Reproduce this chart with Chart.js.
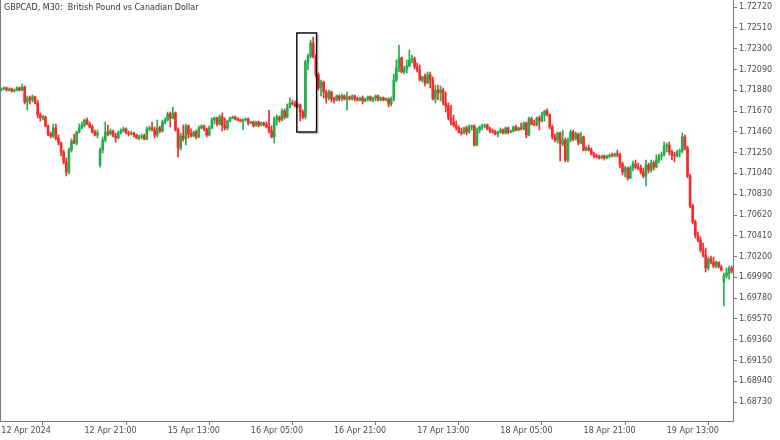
<!DOCTYPE html>
<html>
<head>
<meta charset="utf-8">
<script src="https://cdn.jsdelivr.net/npm/chart.js@4.4.1/dist/chart.umd.min.js"></script>
<style>
html,body{margin:0;padding:0;background:#fff;}
#wrap{width:780px;height:440px;position:relative;}
</style>
</head>
<body>
<div id="wrap"><canvas id="c" width="780" height="440"></canvas></div>
<script>
const chartTitle = "GBPCAD, M30:  British Pound vs Canadian Dollar";

const opens = [
1.71882,1.71893,1.71903,1.71882,1.71893,1.71872,1.71882,1.71903,1.71882,1.71913,
1.71761,1.71802,1.71781,1.71812,1.71751,1.71630,1.71600,1.71610,1.71519,1.71438,
1.71418,1.71499,1.71398,1.71347,1.71256,1.71155,1.71054,1.71276,1.71367,1.71347,
1.71458,1.71499,1.71529,1.71579,1.71539,1.71509,1.71458,1.71428,1.71125,1.71276,
1.71377,1.71458,1.71438,1.71468,1.71418,1.71398,1.71448,1.71468,1.71489,1.71448,
1.71438,1.71448,1.71428,1.71398,1.71408,1.71418,1.71388,1.71489,1.71499,1.71478,
1.71428,1.71499,1.71468,1.71559,1.71579,1.71640,1.71600,1.71650,1.71478,1.71297,
1.71418,1.71388,1.71519,1.71438,1.71418,1.71458,1.71408,1.71499,1.71519,1.71489,
1.71428,1.71499,1.71579,1.71600,1.71539,1.71610,1.71519,1.71499,1.71569,1.71600,
1.71610,1.71590,1.71579,1.71569,1.71579,1.71590,1.71549,1.71559,1.71519,1.71559,
1.71529,1.71549,1.71529,1.71509,1.71468,1.71408,1.71590,1.71610,1.71579,1.71670,
1.71610,1.71711,1.71751,1.71741,1.71721,1.71731,1.71660,1.71610,1.72165,1.72226,
1.72357,1.72216,1.72034,1.71903,1.71963,1.71862,1.71802,1.71862,1.71792,1.71781,
1.71822,1.71792,1.71822,1.71792,1.71812,1.71792,1.71822,1.71792,1.71781,1.71802,
1.71771,1.71792,1.71812,1.71781,1.71802,1.71822,1.71781,1.71802,1.71781,1.71792,
1.71741,1.71792,1.71983,1.72105,1.72206,1.72064,1.72095,1.72125,1.72185,1.72196,
1.72115,1.72084,1.71983,1.72014,1.71953,1.72034,1.71983,1.71792,1.71882,1.71852,
1.71882,1.71751,1.71721,1.71600,1.71559,1.71529,1.71499,1.71458,1.71448,1.71499,
1.71458,1.71509,1.71519,1.71327,1.71478,1.71509,1.71519,1.71529,1.71489,1.71468,
1.71458,1.71438,1.71458,1.71478,1.71448,1.71499,1.71458,1.71468,1.71509,1.71478,
1.71499,1.71489,1.71549,1.71428,1.71590,1.71539,1.71529,1.71600,1.71569,1.71630,
1.71670,1.71630,1.71509,1.71408,1.71377,1.71448,1.71337,1.71377,1.71175,1.71377,
1.71458,1.71388,1.71438,1.71347,1.71408,1.71276,1.71297,1.71276,1.71236,1.71216,
1.71206,1.71196,1.71216,1.71196,1.71216,1.71226,1.71216,1.71236,1.71226,1.71135,
1.71054,1.71095,1.70994,1.71095,1.71135,1.71105,1.71095,1.71054,1.71014,1.71125,
1.71074,1.71145,1.71105,1.71175,1.71216,1.71226,1.71317,1.71327,1.71256,1.71226,
1.71216,1.71256,1.71266,1.71408,1.71297,1.71014,1.70711,1.70549,1.70418,1.70367,
1.70266,1.70216,1.70085,1.70176,1.70145,1.70105,1.70145,1.70095,1.69943,1.70004,
1.70034,1.70085
];

const highs = [
1.71903,1.71913,1.71913,1.71903,1.71903,1.71893,1.71913,1.71913,1.71943,1.71923,
1.71822,1.71822,1.71832,1.71822,1.71781,1.71650,1.71630,1.71620,1.71529,1.71458,
1.71539,1.71539,1.71428,1.71357,1.71276,1.71196,1.71297,1.71388,1.71438,1.71468,
1.71539,1.71559,1.71590,1.71600,1.71559,1.71529,1.71478,1.71478,1.71297,1.71408,
1.71559,1.71529,1.71489,1.71478,1.71448,1.71468,1.71489,1.71509,1.71499,1.71468,
1.71468,1.71458,1.71438,1.71428,1.71438,1.71438,1.71509,1.71519,1.71559,1.71509,
1.71579,1.71519,1.71579,1.71600,1.71660,1.71660,1.71711,1.71660,1.71499,1.71448,
1.71529,1.71539,1.71529,1.71489,1.71468,1.71478,1.71519,1.71529,1.71529,1.71499,
1.71519,1.71600,1.71610,1.71610,1.71630,1.71650,1.71600,1.71579,1.71610,1.71620,
1.71620,1.71600,1.71590,1.71590,1.71600,1.71600,1.71569,1.71569,1.71569,1.71569,
1.71559,1.71559,1.71559,1.71680,1.71519,1.71610,1.71630,1.71620,1.71691,1.71691,
1.71741,1.71802,1.71781,1.71771,1.71751,1.71741,1.71680,1.72185,1.72246,1.72387,
1.72418,1.72236,1.72054,1.71983,1.71973,1.71882,1.71882,1.71872,1.71812,1.71832,
1.71832,1.71842,1.71832,1.71862,1.71822,1.71832,1.71832,1.71812,1.71812,1.71822,
1.71802,1.71822,1.71822,1.71812,1.71832,1.71832,1.71812,1.71812,1.71802,1.71802,
1.71812,1.72044,1.72185,1.72337,1.72216,1.72125,1.72185,1.72286,1.72236,1.72216,
1.72155,1.72135,1.72024,1.72044,1.72064,1.72064,1.72014,1.71933,1.71933,1.71923,
1.71903,1.71862,1.71751,1.71731,1.71630,1.71569,1.71519,1.71499,1.71509,1.71519,
1.71529,1.71529,1.71529,1.71499,1.71519,1.71539,1.71539,1.71539,1.71509,1.71489,
1.71478,1.71468,1.71499,1.71489,1.71509,1.71509,1.71478,1.71519,1.71529,1.71509,
1.71549,1.71559,1.71559,1.71610,1.71610,1.71579,1.71610,1.71620,1.71660,1.71680,
1.71691,1.71640,1.71529,1.71438,1.71458,1.71458,1.71478,1.71398,1.71398,1.71478,
1.71478,1.71458,1.71448,1.71458,1.71418,1.71317,1.71327,1.71297,1.71256,1.71236,
1.71226,1.71226,1.71226,1.71226,1.71236,1.71246,1.71246,1.71276,1.71246,1.71155,
1.71115,1.71105,1.71115,1.71165,1.71175,1.71145,1.71125,1.71095,1.71175,1.71145,
1.71175,1.71165,1.71226,1.71236,1.71256,1.71357,1.71347,1.71357,1.71276,1.71256,
1.71276,1.71287,1.71448,1.71428,1.71317,1.71034,1.70731,1.70569,1.70448,1.70398,
1.70337,1.70287,1.70196,1.70206,1.70196,1.70155,1.70145,1.70115,1.70034,1.70085,
1.70105,1.70105
];

const lows = [
1.71872,1.71882,1.71872,1.71872,1.71862,1.71862,1.71872,1.71872,1.71872,1.71741,
1.71680,1.71741,1.71761,1.71741,1.71600,1.71569,1.71579,1.71509,1.71418,1.71398,
1.71398,1.71377,1.71327,1.71216,1.71135,1.71014,1.71034,1.71256,1.71337,1.71327,
1.71448,1.71489,1.71509,1.71529,1.71499,1.71448,1.71418,1.71398,1.71105,1.71246,
1.71357,1.71418,1.71428,1.71408,1.71357,1.71388,1.71438,1.71458,1.71438,1.71418,
1.71428,1.71408,1.71388,1.71377,1.71388,1.71377,1.71377,1.71468,1.71468,1.71398,
1.71408,1.71448,1.71458,1.71539,1.71569,1.71509,1.71590,1.71468,1.71206,1.71276,
1.71367,1.71327,1.71398,1.71408,1.71408,1.71388,1.71398,1.71489,1.71468,1.71408,
1.71418,1.71489,1.71539,1.71519,1.71529,1.71468,1.71478,1.71478,1.71559,1.71590,
1.71579,1.71569,1.71559,1.71478,1.71569,1.71529,1.71539,1.71509,1.71519,1.71509,
1.71519,1.71519,1.71499,1.71448,1.71398,1.71347,1.71529,1.71559,1.71569,1.71590,
1.71600,1.71701,1.71731,1.71711,1.71701,1.71569,1.71590,1.71590,1.72084,1.72206,
1.72206,1.72014,1.71882,1.71822,1.71802,1.71751,1.71781,1.71761,1.71751,1.71771,
1.71771,1.71771,1.71781,1.71680,1.71781,1.71781,1.71771,1.71771,1.71771,1.71741,
1.71761,1.71771,1.71771,1.71761,1.71771,1.71771,1.71771,1.71771,1.71771,1.71711,
1.71721,1.71771,1.71963,1.72064,1.72054,1.72044,1.72054,1.72115,1.72155,1.72095,
1.72064,1.71973,1.71963,1.71923,1.71943,1.71903,1.71781,1.71751,1.71781,1.71771,
1.71731,1.71660,1.71579,1.71529,1.71509,1.71478,1.71448,1.71428,1.71438,1.71428,
1.71448,1.71478,1.71317,1.71317,1.71448,1.71478,1.71499,1.71478,1.71448,1.71448,
1.71428,1.71408,1.71448,1.71438,1.71438,1.71438,1.71448,1.71458,1.71468,1.71468,
1.71478,1.71478,1.71398,1.71418,1.71529,1.71519,1.71519,1.71478,1.71559,1.71569,
1.71620,1.71489,1.71388,1.71357,1.71347,1.71165,1.71317,1.71155,1.71155,1.71357,
1.71367,1.71377,1.71327,1.71337,1.71266,1.71266,1.71266,1.71226,1.71196,1.71196,
1.71186,1.71186,1.71175,1.71186,1.71196,1.71206,1.71206,1.71206,1.71095,1.71024,
1.71004,1.70973,1.70984,1.71064,1.71085,1.71074,1.71034,1.70994,1.70913,1.71044,
1.71054,1.71074,1.71095,1.71145,1.71175,1.71216,1.71256,1.71226,1.71175,1.71155,
1.71206,1.71206,1.71246,1.71276,1.70994,1.70691,1.70529,1.70388,1.70347,1.70246,
1.70196,1.70044,1.70064,1.70125,1.70085,1.70085,1.70085,1.70054,1.69701,1.69983,
1.69973,1.70034
];

const closes = [
1.71893,1.71903,1.71882,1.71893,1.71872,1.71882,1.71903,1.71882,1.71913,1.71761,
1.71802,1.71781,1.71812,1.71751,1.71630,1.71600,1.71610,1.71519,1.71438,1.71418,
1.71499,1.71398,1.71347,1.71256,1.71155,1.71054,1.71276,1.71367,1.71347,1.71458,
1.71499,1.71529,1.71579,1.71539,1.71509,1.71458,1.71428,1.71448,1.71276,1.71377,
1.71458,1.71438,1.71468,1.71418,1.71398,1.71448,1.71468,1.71489,1.71448,1.71438,
1.71448,1.71428,1.71398,1.71408,1.71418,1.71388,1.71489,1.71499,1.71478,1.71428,
1.71499,1.71468,1.71559,1.71579,1.71640,1.71600,1.71650,1.71478,1.71297,1.71418,
1.71388,1.71519,1.71438,1.71418,1.71458,1.71408,1.71499,1.71519,1.71489,1.71428,
1.71499,1.71579,1.71600,1.71539,1.71610,1.71519,1.71499,1.71569,1.71600,1.71610,
1.71590,1.71579,1.71569,1.71579,1.71590,1.71549,1.71559,1.71519,1.71559,1.71529,
1.71549,1.71529,1.71509,1.71468,1.71408,1.71590,1.71610,1.71579,1.71670,1.71610,
1.71711,1.71751,1.71741,1.71721,1.71731,1.71660,1.71610,1.72165,1.72226,1.72357,
1.72216,1.72034,1.71903,1.71963,1.71862,1.71802,1.71862,1.71792,1.71781,1.71822,
1.71792,1.71822,1.71792,1.71812,1.71792,1.71822,1.71792,1.71781,1.71802,1.71771,
1.71792,1.71812,1.71781,1.71802,1.71822,1.71781,1.71802,1.71781,1.71792,1.71741,
1.71792,1.71983,1.72105,1.72206,1.72064,1.72095,1.72125,1.72185,1.72196,1.72115,
1.72084,1.71983,1.72014,1.71953,1.72034,1.71983,1.71792,1.71882,1.71852,1.71882,
1.71751,1.71721,1.71600,1.71559,1.71529,1.71499,1.71458,1.71448,1.71499,1.71458,
1.71509,1.71519,1.71327,1.71478,1.71509,1.71519,1.71529,1.71489,1.71468,1.71458,
1.71438,1.71458,1.71478,1.71448,1.71499,1.71458,1.71468,1.71509,1.71478,1.71499,
1.71489,1.71549,1.71428,1.71590,1.71539,1.71529,1.71600,1.71569,1.71630,1.71670,
1.71630,1.71509,1.71408,1.71377,1.71448,1.71337,1.71377,1.71175,1.71377,1.71458,
1.71388,1.71438,1.71347,1.71408,1.71276,1.71297,1.71276,1.71236,1.71216,1.71206,
1.71196,1.71216,1.71196,1.71216,1.71226,1.71216,1.71236,1.71226,1.71135,1.71054,
1.71095,1.70994,1.71095,1.71135,1.71105,1.71095,1.71054,1.71014,1.71125,1.71074,
1.71145,1.71105,1.71175,1.71216,1.71226,1.71317,1.71327,1.71256,1.71226,1.71216,
1.71256,1.71266,1.71408,1.71297,1.71014,1.70711,1.70549,1.70418,1.70367,1.70266,
1.70216,1.70085,1.70176,1.70145,1.70105,1.70145,1.70095,1.70064,1.70004,1.70034,
1.70085,1.70054
];

const priceTicks = [1.72720,1.72510,1.72300,1.72090,1.71880,1.71670,1.71460,1.71250,1.71040,
  1.70830,1.70620,1.70410,1.70200,1.69990,1.69780,1.69570,1.69360,1.69150,1.68940,1.68730];
const priceMin = 1.68540;
const priceMax = 1.72791;

const firstBarTime = "2024-04-12T05:00:00Z";
const tickTimes  = ["12 Apr 05:00","12 Apr 21:00","15 Apr 13:00","16 Apr 05:00","16 Apr 21:00",
                    "17 Apr 13:00","18 Apr 05:00","18 Apr 21:00","19 Apr 13:00"];
const tickLabels = ["12 Apr 2024","12 Apr 21:00","15 Apr 13:00","16 Apr 05:00","16 Apr 21:00",
                    "17 Apr 13:00","18 Apr 05:00","18 Apr 21:00","19 Apr 13:00"];

// highlighted rectangle (in candle indices and prices)
const boxFirstCandle = 114, boxLastCandle = 121;
const boxTopPrice = 1.72458, boxBottomPrice = 1.71458;

const UP = '#23ad4c', DOWN = '#f52a2a';

// build M30 time categories, skipping weekends
const MON = ['Jan','Feb','Mar','Apr','May','Jun','Jul','Aug','Sep','Oct','Nov','Dec'];
const categories = [];
{
  let t = Date.parse(firstBarTime);
  const pad = n => String(n).padStart(2,'0');
  for (let i = 0; i < closes.length; i++) {
    let d = new Date(t);
    while (d.getUTCDay() === 6 || d.getUTCDay() === 0) { t += 1800000; d = new Date(t); }
    categories.push(d.getUTCDate() + ' ' + MON[d.getUTCMonth()] + ' ' + pad(d.getUTCHours()) + ':' + pad(d.getUTCMinutes()));
    t += 1800000;
  }
}

const colors = closes.map((c,i) => c >= opens[i] ? UP : DOWN);
const bodies = opens.map((o,i) => [o, closes[i]]);
const wicks = lows.map((l,i) => [l, highs[i]]);

const FONT = 'DejaVu Sans';
const TXT = '#4a4a4a';

const overlay = {
  id: 'overlay',
  afterDraw(chart) {
    const {ctx, chartArea, scales} = chart;
    ctx.save();
    ctx.strokeStyle = '#7a7a7a';
    ctx.lineWidth = 1;
    ctx.beginPath();
    ctx.moveTo(chartArea.left + 0.5, 0);
    ctx.lineTo(chartArea.left + 0.5, chartArea.bottom);
    ctx.stroke();
    ctx.fillStyle = '#333';
    ctx.font = '8px "' + FONT + '"';
    ctx.textBaseline = 'middle';
    ctx.textAlign = 'left';
    ctx.fillText(chartTitle, 4, 8);
    const x = scales.x, y = scales.y;
    const step = x.getPixelForValue(1) - x.getPixelForValue(0);
    const x0 = x.getPixelForValue(boxFirstCandle) - step * 0.3;
    const x1 = x.getPixelForValue(boxLastCandle) + step * 0.3;
    const y0 = y.getPixelForValue(boxTopPrice);
    const y1 = y.getPixelForValue(boxBottomPrice);
    ctx.strokeStyle = 'rgba(0,0,0,0.25)';
    ctx.lineWidth = 1;
    ctx.beginPath();
    ctx.moveTo(x1 + 1.5, y0 + 1); ctx.lineTo(x1 + 1.5, y1 + 1.5); ctx.lineTo(x0 + 1, y1 + 1.5);
    ctx.stroke();
    ctx.strokeStyle = '#000';
    ctx.lineWidth = 1.4;
    ctx.strokeRect(x0, y0, x1 - x0, y1 - y0);
    ctx.restore();
  }
};

new Chart(document.getElementById('c'), {
  type: 'bar',
  data: {
    labels: categories,
    datasets: [
      { label: 'body', data: bodies, backgroundColor: colors, borderWidth: 0,
        barThickness: 2, grouped: false, order: 0, minBarLength: 1 },
      { label: 'wick', data: wicks, backgroundColor: colors, borderWidth: 0,
        barThickness: 1, grouped: false, order: 1 }
    ]
  },
  options: {
    responsive: false,
    animation: false,
    layout: { padding: 0 },
    plugins: { legend: { display: false }, tooltip: { enabled: false }, title: { display: false } },
    scales: {
      x: {
        type: 'category',
        offset: true,
        grid: { display: true, drawOnChartArea: false, drawTicks: true, tickLength: 4, color: '#7a7a7a' },
        border: { display: true, color: '#7a7a7a' },
        afterBuildTicks(axis) {
          axis.ticks = tickTimes.map(t => ({ value: categories.indexOf(t) }));
        },
        afterFit(axis) {
          axis.height = 19;
          axis.paddingLeft = 0; axis.paddingRight = 0; axis.paddingTop = 0; axis.paddingBottom = 0;
        },
        ticks: {
          autoSkip: false, maxRotation: 0, align: 'start', padding: 1,
          color: TXT, font: { family: FONT, size: 8 },
          callback(v) { return tickLabels[tickTimes.indexOf(categories[v])]; }
        }
      },
      y: {
        position: 'right',
        min: priceMin, max: priceMax,
        grid: { display: true, drawOnChartArea: false, drawTicks: true, tickLength: 4, color: '#7a7a7a' },
        border: { display: true, color: '#7a7a7a' },
        afterBuildTicks(axis) { axis.ticks = priceTicks.map(v => ({ value: v })); },
        afterFit(axis) {
          axis.width = 47;
          axis.paddingTop = 0; axis.paddingBottom = 0; axis.paddingLeft = 0; axis.paddingRight = 0;
        },
        ticks: {
          padding: 2, color: TXT, crossAlign: 'near',
          font: { family: FONT, size: 8 },
          callback(v) { return Number(v).toFixed(5); }
        }
      }
    }
  },
  plugins: [overlay]
});
</script>
</body>
</html>
